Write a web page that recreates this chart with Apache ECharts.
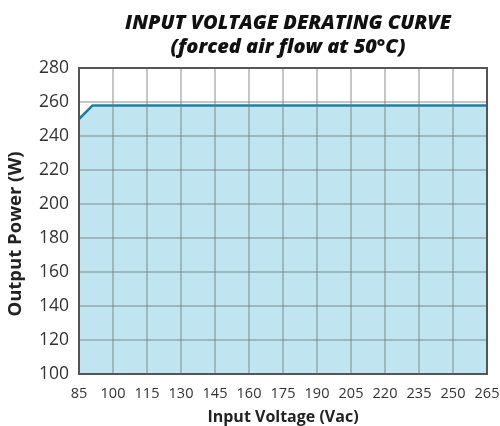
<!DOCTYPE html>
<html><head><meta charset="utf-8">
<script src="https://cdn.jsdelivr.net/npm/echarts@6/dist/echarts.min.js"></script>
<style>html,body{margin:0;padding:0;background:#fff}#c{width:500px;height:426px}</style>
</head><body><div id="c"></div>
<script>
const voltage = [85, 91, 265];
const power = [250, 258, 258];
const xMin = 85, xMax = 265, xStep = 15;
const yMin = 100, yMax = 280, yStep = 20;

const chart = echarts.init(document.getElementById('c'));
const data = voltage.map((v, i) => [v - xMin, power[i]]);
chart.setOption({
  animation: false,
  title: {
    text: 'INPUT VOLTAGE DERATING CURVE\n(forced air flow at 50°C)',
    left: 283, top: 6, textAlign: 'center',
    textStyle: { fontFamily: 'Open Sans', fontWeight: 800, fontStyle: 'italic', fontSize: 20, lineHeight: 24, color: '#111' }
  },
  grid: { left: 79, right: 13, top: 68, bottom: 52, show: true, borderColor: '#555', borderWidth: 2, z: 5, backgroundColor: 'transparent', containLabel: false, outerBoundsMode: 'none' },
  xAxis: {
    type: 'value', min: 0, max: xMax - xMin, interval: xStep, z: 3,
    name: 'Input Voltage (Vac)', nameLocation: 'middle', nameGap: 35,
    nameTextStyle: { fontFamily: 'Open Sans', fontWeight: 'bold', fontSize: 16, color: '#222' },
    axisLine: { show: false }, axisTick: { show: false },
    axisLabel: { formatter: v => String(v + xMin), fontFamily: 'Open Sans', fontSize: 14.5, color: '#333', margin: 12 },
    splitLine: { show: true, lineStyle: { color: 'rgba(110,120,125,0.55)', width: 1.5 } }
  },
  yAxis: {
    type: 'value', min: yMin, max: yMax, interval: yStep, z: 3,
    name: 'Output Power (W)', nameLocation: 'middle', nameGap: 54,
    nameTextStyle: { fontFamily: 'Open Sans', fontWeight: 'bold', fontSize: 18.5, color: '#222', padding: [0, 26, 0, 0] },
    axisLine: { show: false }, axisTick: { show: false },
    axisLabel: { fontFamily: 'Open Sans', fontSize: 17.5, color: '#333', margin: 10 },
    splitLine: { show: true, lineStyle: { color: 'rgba(110,120,125,0.55)', width: 1.5 } }
  },
  series: [{
    type: 'line', data: data, symbol: 'none', z: 2,
    lineStyle: { color: '#1d7fa2', width: 2.5 },
    areaStyle: { color: '#c0e5f0', opacity: 1 }
  }]
});
</script></body></html>
